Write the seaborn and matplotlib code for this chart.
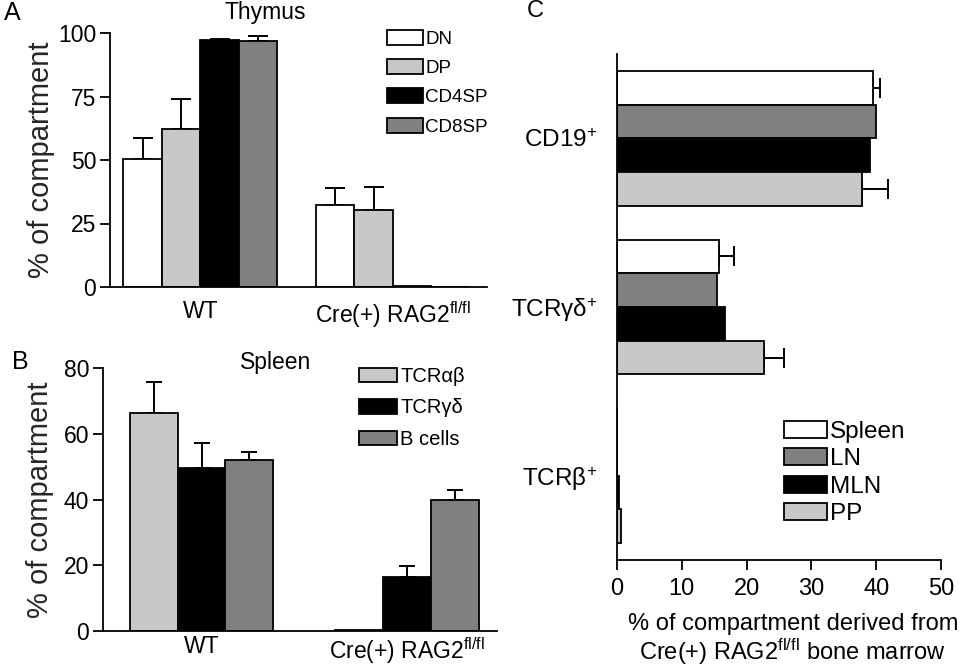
import numpy as np
import pandas as pd
import matplotlib
matplotlib.use("Agg")
import matplotlib.pyplot as plt
import seaborn as sns
from matplotlib.patches import Patch

# ---------------- data ----------------
# Panel A: Thymus
thymus_groups = ["WT", "Cre(+) RAG2$^{\\mathrm{fl/fl}}$"]
thymus_subsets = ["DN", "DP", "CD4SP", "CD8SP"]
dn = [50.4, 32.3]
dn_err = [8.3, 6.6]
dp = [62.1, 30.3]
dp_err = [11.9, 9.1]
cd4sp = [97.2, 0.5]
cd4sp_err = [0.3, 0.0]
cd8sp = [97.0, 0.0]
cd8sp_err = [1.8, 0.0]
thymus_yticks = [0, 25, 50, 75, 100]

# Panel B: Spleen
spleen_groups = ["WT", "Cre(+) RAG2$^{\\mathrm{fl/fl}}$"]
spleen_subsets = ["TCRαβ", "TCRγδ", "B cells"]
tcr_ab = [66.3, 0.4]
tcr_ab_err = [9.4, 0.0]
tcr_gd = [49.7, 16.5]
tcr_gd_err = [7.5, 3.4]
b_cells = [52.0, 39.9]
b_cells_err = [2.4, 2.9]
spleen_yticks = [0, 20, 40, 60, 80]

# Panel C: derived compartments
c_categories = ["CD19$^{+}$", "TCRγδ$^{+}$", "TCRβ$^{+}$"]
c_tissues = ["Spleen", "LN", "MLN", "PP"]
spleen_c = [39.5, 15.8, 0.0]
spleen_c_err = [1.1, 2.2, 0.0]
ln_c = [39.9, 15.5, 0.0]
ln_c_err = [0.0, 0.0, 0.0]
mln_c = [39.1, 16.7, 0.3]
mln_c_err = [0.0, 0.0, 0.0]
pp_c = [37.8, 22.7, 0.6]
pp_c_err = [4.0, 3.0, 0.0]
c_xticks = [0, 10, 20, 30, 40, 50]

# ---------------- style ----------------
sns.set_theme(style="ticks")
plt.rcParams["font.family"] = ["Liberation Sans", "DejaVu Sans"]
plt.rcParams["mathtext.fontset"] = "custom"
plt.rcParams["mathtext.rm"] = "Liberation Sans"
plt.rcParams["mathtext.it"] = "Liberation Sans:italic"
plt.rcParams["mathtext.bf"] = "Liberation Sans:bold"
plt.rcParams["axes.linewidth"] = 1.3
plt.rcParams["xtick.major.width"] = 1.3
plt.rcParams["ytick.major.width"] = 1.3
plt.rcParams["text.color"] = "black"
plt.rcParams["xtick.color"] = "black"
plt.rcParams["ytick.color"] = "black"
plt.rcParams["axes.edgecolor"] = "black"

WHITE = "#ffffff"
LIGHT = "#c8c8c8"
BLACK = "#000000"
GRAY = "#808080"

W, H = 966, 666
fig = plt.figure(figsize=(W / 100, H / 100), dpi=100)


def frac_axes(left, right, top, bottom):
    return fig.add_axes([left / W, 1 - bottom / H, (right - left) / W, (bottom - top) / H])


def long_df(cats, hues, series):
    rows = []
    for h, vals in zip(hues, series):
        for c, v in zip(cats, vals):
            rows.append({"cat": c, "hue": h, "value": v})
    return pd.DataFrame(rows)


def add_errs(ax, errs, horizontal=False, cap=7):
    for cont, err in zip(ax.containers, errs):
        for bar, e in zip(cont, err):
            if e <= 0:
                continue
            if horizontal:
                y = bar.get_y() + bar.get_height() / 2
                x = bar.get_x() + bar.get_width()
                ax.errorbar(x, y, xerr=[[0], [e]], fmt="none", ecolor="black",
                            elinewidth=1.4, capsize=cap, capthick=1.4, zorder=1)
            else:
                x = bar.get_x() + bar.get_width() / 2
                y = bar.get_y() + bar.get_height()
                ax.errorbar(x, y, yerr=[[0], [e]], fmt="none", ecolor="black",
                            elinewidth=1.4, capsize=cap, capthick=1.4, zorder=1)


def make_legend(labels, colors, x, y, fs, hl, hh, ls):
    handles = [Patch(facecolor=c, edgecolor="black", linewidth=1.3) for c in colors]
    fig.legend(handles, labels, loc="upper left", bbox_to_anchor=(x / W, 1 - y / H),
               bbox_transform=fig.transFigure, frameon=False, fontsize=fs,
               handlelength=hl, handleheight=hh, labelspacing=ls, handletextpad=0.15,
               borderpad=0, borderaxespad=0)


# ---------------- Panel A ----------------
axA = frac_axes(110, 487, 33, 287)
dfA = long_df(thymus_groups, thymus_subsets, [dn, dp, cd4sp, cd8sp])
colorsA = [WHITE, LIGHT, BLACK, GRAY]
sns.barplot(data=dfA, x="cat", y="value", hue="hue", hue_order=thymus_subsets,
            order=thymus_groups, palette=colorsA, edgecolor="black", linewidth=1.3,
            errorbar=None, width=0.8, saturation=1, legend=False, ax=axA, zorder=2)
add_errs(axA, [dn_err, dp_err, cd4sp_err, cd8sp_err], cap=7)
axA.set_xlim(-0.47, 1.49)
axA.set_ylim(0, 100)
axA.set_yticks(thymus_yticks)
axA.tick_params(axis="y", labelsize=16.5, length=7, pad=3)
axA.tick_params(axis="x", labelsize=16.5, length=0, pad=9)
axA.set_xlabel("")
axA.set_ylabel("% of compartment", fontsize=21, labelpad=2)
sns.despine(ax=axA)
fig.text(265 / W, 1 - 13 / H, "Thymus", fontsize=16.5, ha="center", va="center")
fig.text(4 / W, 1 - 13 / H, "A", fontsize=18, ha="left", va="center")
make_legend(thymus_subsets, colorsA, 387, 30, 13.5, 1.9, 0.85, 0.6)

# ---------------- Panel B ----------------
axB = frac_axes(103, 497, 368.3, 631)
dfB = long_df(spleen_groups, spleen_subsets, [tcr_ab, tcr_gd, b_cells])
colorsB = [LIGHT, BLACK, GRAY]
sns.barplot(data=dfB, x="cat", y="value", hue="hue", hue_order=spleen_subsets,
            order=spleen_groups, palette=colorsB, edgecolor="black", linewidth=1.3,
            errorbar=None, width=0.7, saturation=1, legend=False, ax=axB, zorder=2)
add_errs(axB, [tcr_ab_err, tcr_gd_err, b_cells_err], cap=6)
axB.set_xlim(-0.48, 1.44)
axB.set_ylim(0, 80)
axB.set_yticks(spleen_yticks)
axB.tick_params(axis="y", labelsize=16.5, length=7, pad=3)
axB.tick_params(axis="x", labelsize=16.5, length=0, pad=3)
axB.set_xlabel("")
axB.set_ylabel("% of compartment", fontsize=21, labelpad=7)
sns.despine(ax=axB)
fig.text(276 / W, 1 - 362 / H, "Spleen", fontsize=16.5, ha="center", va="center")
fig.text(12 / W, 1 - 362 / H, "B", fontsize=18, ha="left", va="center")
make_legend(spleen_subsets, colorsB, 359, 367, 14.5, 1.9, 0.75, 0.62)

# ---------------- Panel C ----------------
axC = frac_axes(617, 941, 54, 560)
dfC = long_df(c_categories, c_tissues, [spleen_c, ln_c, mln_c, pp_c])
colorsC = [WHITE, GRAY, BLACK, LIGHT]
sns.barplot(data=dfC, x="value", y="cat", hue="hue", hue_order=c_tissues,
            order=c_categories, orient="h", palette=colorsC, edgecolor="black",
            linewidth=1.3, errorbar=None, width=0.8, saturation=1, legend=False,
            ax=axC, zorder=2)
add_errs(axC, [spleen_c_err, ln_c_err, mln_c_err, pp_c_err], horizontal=True, cap=7)
axC.set_xlim(0, 50)
axC.set_ylim(2.5, -0.5)
axC.set_xticks(c_xticks)
axC.tick_params(axis="x", labelsize=17, length=7, pad=6)
axC.tick_params(axis="y", labelsize=17.5, length=0, pad=14)
axC.set_ylabel("")
axC.set_xlabel("")
sns.despine(ax=axC)
fig.text(793 / W, 1 - 640 / H,
         "% of compartment derived from\nCre(+) RAG2$^{\\mathrm{fl/fl}}$ bone marrow",
         fontsize=17, ha="center", va="center", linespacing=1.05)
fig.text(527 / W, 1 - 11 / H, "C", fontsize=17, ha="left", va="center")
make_legend(c_tissues, colorsC, 784, 421, 17.5, 1.75, 0.7, 0.22)

fig.savefig("out.png", dpi=100)
